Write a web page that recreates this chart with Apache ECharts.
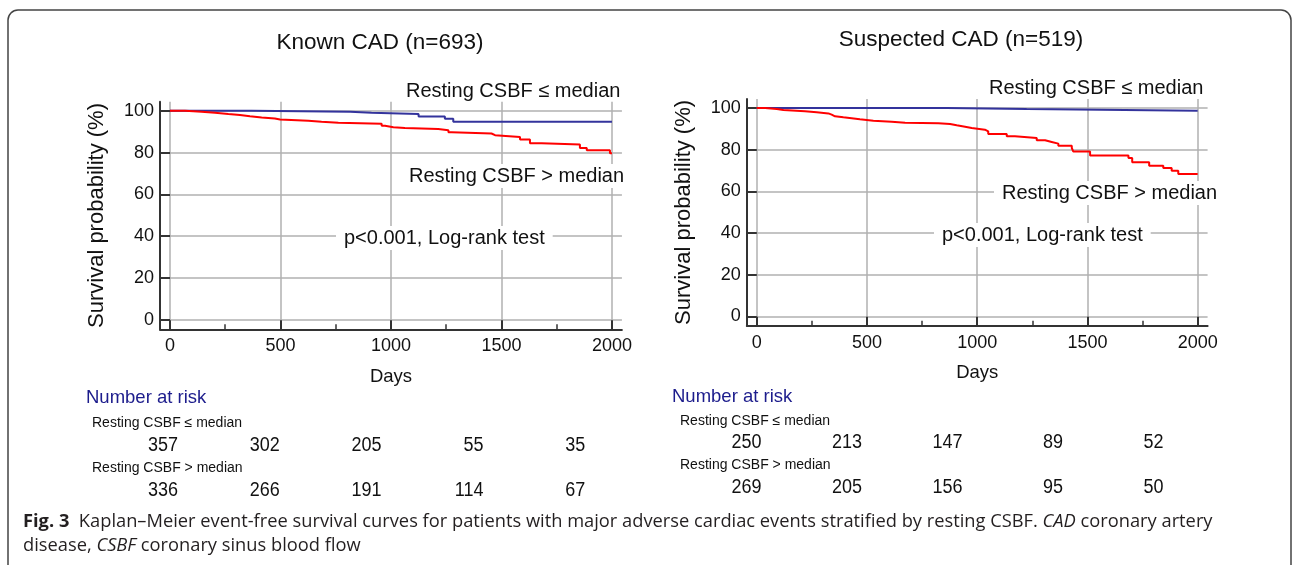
<!DOCTYPE html>
<html>
<head>
<meta charset="utf-8">
<script src="https://cdn.jsdelivr.net/npm/echarts@6/dist/echarts.min.js"></script>
<style>
  html, body { margin: 0; padding: 0; background: #fff; }
  #main { width: 1296px; height: 565px; }
</style>
</head>
<body>
<div id="main"></div>
<script>
// Kaplan-Meier steps: [day, survival %]
var knownLow = [[0,100],[370,99.5],[815,99.0],[912,98.4],[1125,97.2],[1244,96.2],[1282,94.7],[2000,94.7]];
var knownHigh = [[0,100],[68,99.5],[143,99.0],[204,98.4],[264,97.9],[317,97.3],[362,96.8],[415,96.3],[475,95.8],
  [498,95.2],[626,94.7],[686,94.2],[762,93.8],[958,92.8],[973,92.1],[1011,91.7],[1063,91.2],[1214,90.7],
  [1260,89.7],[1275,89.1],[1455,88.3],[1471,87.4],[1584,86.2],[1629,84.4],[1682,83.8],[1855,82.2],
  [1886,81.1],[1991,79.7],[2000,79.7]];
var suspLow = [[0,100],[862,99.5],[1224,98.7],[2000,98.7]];
var suspHigh = [[0,100],[38,99.5],[91,99.0],[121,98.4],[219,97.9],[272,97.4],[325,96.8],[340,96.0],[355,95.5],
  [393,94.6],[468,93.9],[529,93.4],[612,92.9],[673,92.7],[824,92.3],[877,91.7],[907,91.0],[945,90.4],
  [975,89.6],[1035,88.8],[1050,87.5],[1134,86.4],[1171,85.6],[1270,84.5],[1308,83.7],[1338,82.9],
  [1368,81.9],[1429,80.8],[1436,79.1],[1512,77.2],[1686,76.0],[1703,74.0],[1780,72.3],[1844,71.2],
  [1882,69.9],[1912,68.3],[2000,68.3]];

var xTicks = [0, 500, 1000, 1500, 2000];
var xMinor = [250, 750, 1250, 1750];
var yTicks = [0, 20, 40, 60, 80, 100];

var riskKnownLow = [357, 302, 205, 55, 35];
var riskKnownHigh = [336, 266, 191, 114, 67];
var riskSuspLow = [250, 213, 147, 89, 52];
var riskSuspHigh = [269, 205, 156, 95, 50];

var FONT = 'Liberation Sans';
var chart = echarts.init(document.getElementById('main'));

function plain(v) { return String(v); }

function xAx(gi) {
  return {
    type: 'value', gridIndex: gi, min: -45, max: 2045, position: 'bottom',
    name: 'Days', nameLocation: 'middle', nameGap: 38,
    nameTextStyle: { fontFamily: FONT, fontSize: 18.5, color: '#111' },
    axisLine: { onZero: false, lineStyle: { color: '#333', width: 2 } },
    axisTick: { customValues: xTicks, inside: true, length: 9, lineStyle: { color: '#333', width: 2 } },
    axisLabel: { customValues: xTicks, formatter: plain, margin: 8, fontFamily: FONT, fontSize: 18, color: '#111' },
    splitLine: { show: true, lineStyle: { color: '#b0b0b0', width: 1.5 } }
  };
}
function xMinorAx(gi) {
  return {
    type: 'value', gridIndex: gi, min: -45, max: 2045, position: 'bottom',
    axisLine: { show: false, onZero: false },
    axisTick: { customValues: xMinor, inside: true, length: 5, lineStyle: { color: '#333', width: 1.5 } },
    axisLabel: { show: false },
    splitLine: { show: false }
  };
}
function yAx(gi) {
  return {
    type: 'value', gridIndex: gi, min: -4.5, max: 104.3,
    name: 'Survival probability (%)', nameLocation: 'middle', nameGap: 52,
    nameTextStyle: { fontFamily: FONT, fontSize: 22, color: '#111' },
    axisLine: { onZero: false, lineStyle: { color: '#333', width: 2 } },
    axisTick: { customValues: yTicks, inside: true, length: 10, lineStyle: { color: '#333', width: 2 } },
    axisLabel: { customValues: yTicks, formatter: plain, margin: 6, fontFamily: FONT, fontSize: 18, color: '#111' },
    splitLine: { show: true, lineStyle: { color: '#b0b0b0', width: 1.5 } }
  };
}
function km(name, data, color, xi, yi) {
  return {
    name: name, type: 'line', step: 'end', xAxisIndex: xi, yAxisIndex: yi,
    showSymbol: false, data: data, z: 5,
    lineStyle: { color: color, width: 2 }, itemStyle: { color: color }
  };
}
function txt(x, y, s, size, opt, sy) {
  var st = Object.assign({ x: 0, y: 0, text: s, fontFamily: FONT, fontSize: size, fill: '#111',
    textAlign: 'left', textVerticalAlign: 'middle' }, opt || {});
  return { type: 'text', z: 20, x: x, y: y, scaleY: sy || 1, style: st };
}
function riskRow(vals, right0, step, y) {
  return vals.map(function (v, i) {
    return txt(right0 + i * step, y, String(v), 18, { textAlign: 'right' }, 1.15);
  });
}

var BLUE = '#33339c', RED = '#ff0000';
var noteBg = { backgroundColor: '#fff', padding: [2, 8] };
var CAP = 'Open Sans', CAPSIZE = 18.3;

var graphics = [
  { type: 'rect', z: 0, shape: { x: 8, y: 10, width: 1283, height: 580, r: 10 },
    style: { fill: 'none', stroke: '#444', lineWidth: 1.5 } },
  txt(380, 43, 'Known CAD (n=693)', 22.5, { textAlign: 'center' }),
  txt(961, 40, 'Suspected CAD (n=519)', 22.5, { textAlign: 'center' }),
  txt(406, 91, 'Resting CSBF \u2264 median', 20),
  txt(401, 176, 'Resting CSBF > median', 20, noteBg),
  txt(336, 238, 'p<0.001, Log-rank test', 20, noteBg),
  txt(989, 88, 'Resting CSBF \u2264 median', 20),
  txt(994, 193, 'Resting CSBF > median', 20, noteBg),
  txt(934, 235, 'p<0.001, Log-rank test', 20, noteBg),
  txt(86, 398, 'Number at risk', 18.5, { fill: '#1c1c8c' }),
  txt(92, 423, 'Resting CSBF \u2264 median', 14),
  txt(92, 468, 'Resting CSBF > median', 14),
  txt(672, 397, 'Number at risk', 18.5, { fill: '#1c1c8c' }),
  txt(680, 421, 'Resting CSBF \u2264 median', 14),
  txt(680, 465, 'Resting CSBF > median', 14),
  {
    type: 'text', z: 20,
    style: {
      x: 23, y: 522, textVerticalAlign: 'middle', fill: '#231f20',
      fontFamily: CAP, fontSize: CAPSIZE,
      text: '{b|Fig. 3}  Kaplan\u2013Meier event-free survival curves for patients with major adverse cardiac events stratified by resting CSBF. {i|CAD} coronary artery',
      rich: {
        b: { fontFamily: CAP, fontSize: CAPSIZE, fontWeight: 'bold', fill: '#231f20' },
        i: { fontFamily: CAP, fontSize: CAPSIZE, fontStyle: 'italic', fill: '#231f20' }
      }
    }
  },
  {
    type: 'text', z: 20,
    style: {
      x: 23, y: 546, textVerticalAlign: 'middle', fill: '#231f20',
      fontFamily: CAP, fontSize: CAPSIZE,
      text: 'disease, {i|CSBF} coronary sinus blood flow',
      rich: { i: { fontFamily: CAP, fontSize: CAPSIZE, fontStyle: 'italic', fill: '#231f20' } }
    }
  }
]
.concat(riskRow(riskKnownLow, 178, 101.8, 445))
.concat(riskRow(riskKnownHigh, 178, 101.8, 490))
.concat(riskRow(riskSuspLow, 761.5, 100.5, 442))
.concat(riskRow(riskSuspHigh, 761.5, 100.5, 487));

chart.setOption({
  backgroundColor: '#fff',
  animation: false,
  grid: [
    { left: 160, top: 101.7, width: 461.9, height: 227.6 },
    { left: 746.8, top: 99, width: 460.8, height: 226.8 }
  ],
  xAxis: [xAx(0), xAx(1), xMinorAx(0), xMinorAx(1)],
  yAxis: [yAx(0), yAx(1)],
  series: [
    km('Known CSBF \u2264 median', knownLow, BLUE, 0, 0),
    km('Known CSBF > median', knownHigh, RED, 0, 0),
    km('Suspected CSBF \u2264 median', suspLow, BLUE, 1, 1),
    km('Suspected CSBF > median', suspHigh, RED, 1, 1)
  ],
  graphic: graphics
});
</script>
</body>
</html>
